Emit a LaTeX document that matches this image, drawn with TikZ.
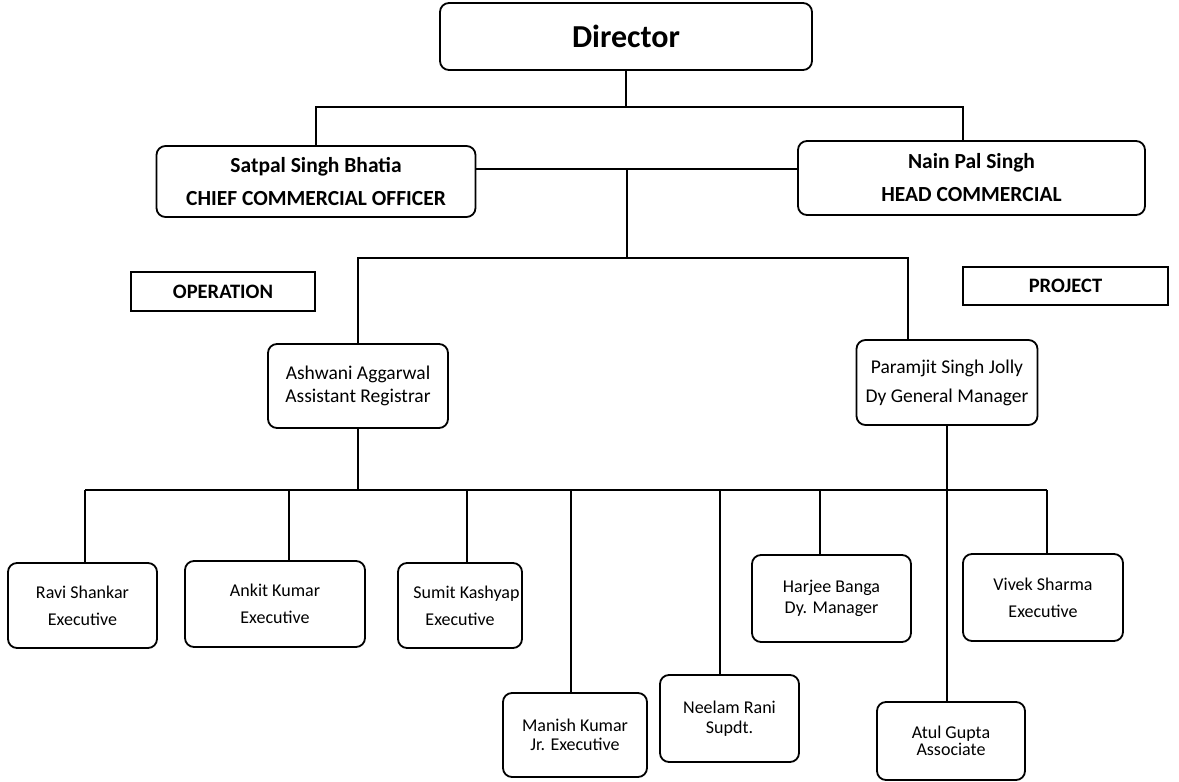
\documentclass[tikz,border=0pt]{standalone}
\usepackage{fontspec}
\setmainfont{Carlito}
\usetikzlibrary{calc}
\begin{document}
\begin{tikzpicture}[x=1pt,y=-1pt,
  link/.style={line width=2pt, black},
  box/.style={draw, rounded corners=9pt, align=center, inner sep=0pt, line width=1.8pt},
  tag/.style={draw, align=center, inner sep=0pt, line width=1.8pt,
    font=\fontsize{20.5}{24}\selectfont\bfseries},
  head/.style={font=\fontsize{21.5}{33}\selectfont\bfseries},
  mid/.style={font=\fontsize{19.5}{25}\selectfont},
  low/.style={font=\fontsize{18}{27}\selectfont}]
\useasboundingbox (0,0) rectangle (1179,782);

% top level
\node[box, minimum width=372pt, minimum height=67pt,
  font=\fontsize{32}{38}\selectfont\bfseries] (dir) at (626,36.5) {Director};

% commercial heads
\node[box, head, minimum width=319pt, minimum height=71pt] (sat) at (316,181.5)
  {Satpal Singh Bhatia\\CHIEF COMMERCIAL OFFICER};
\node[box, head, minimum width=347pt, minimum height=74pt] (nain) at (971.5,178)
  {Nain Pal Singh\\HEAD COMMERCIAL};

% section tags
\node[tag, minimum width=184pt, minimum height=39pt] (op) at (223,291.5) {OPERATION};
\node[tag, minimum width=205pt, minimum height=38pt] (pr) at (1065.5,286) {PROJECT};

% managers
\node[box, mid, minimum width=180pt, minimum height=84pt] (ash) at (358,386)
  {Ashwani Aggarwal\\[-2pt]Assistant Registrar};
\node[box, mid, minimum width=181pt, minimum height=85pt] (par) at (947,382.5)
  {Paramjit Singh Jolly\\[4pt]Dy General Manager};

% staff
\node[box, low, minimum width=149pt, minimum height=85pt] (ravi) at (82.5,605.5)
  {Ravi Shankar\\Executive};
\node[box, low, minimum width=180pt, minimum height=86pt] (ankit) at (275,604)
  {Ankit Kumar\\Executive};
\node[box, low, minimum width=124pt, minimum height=85pt] (sumit) at (460,605.5)
  {\hspace*{13pt}Sumit Kashyap\\Executive};
\node[box, low, minimum width=144pt, minimum height=84pt] (man) at (575,735)
  {Manish Kumar\\[-8pt]Jr. Executive};
\node[box, low, minimum width=139pt, minimum height=87pt] (nee) at (729.5,718.5)
  {Neelam Rani\\[-7pt]Supdt.};
\node[box, low, minimum width=159pt, minimum height=87pt] (har) at (831.5,598.5)
  {Harjee Banga\\[-6pt]Dy. Manager};
\node[box, low, minimum width=160pt, minimum height=87pt] (viv) at (1043,597.5)
  {Vivek Sharma\\Executive};
\node[box, low, minimum width=148pt, minimum height=78pt] (atul) at (951,741)
  {Atul Gupta\\[-10pt]Associate};

% bus levels
\coordinate (tb) at (0,107);
\coordinate (mj) at (627,169);
\coordinate (mb) at (627,258);
\coordinate (bb) at (0,490);

% director to the commercial heads
\draw[link] (dir.south) -- (dir.south |- tb);
\draw[link] (sat.north) -- (sat.north |- tb) -- ([xshift=-8.5pt]nain.north |- tb)
  -- ([xshift=-8.5pt]nain.north);
\draw[link] (mj -| sat.east) -- (mj -| nain.west);

% heads to managers
\draw[link] (mj) -- (mb);
\draw[link] (ash.north) -- (ash.north |- mb) -- ([xshift=-39pt]par.north |- mb)
  -- ([xshift=-39pt]par.north);

% managers to staff
\draw[link] (ash.south) -- (ash.south |- bb);
\draw[link] ([xshift=2.5pt]ravi.north |- bb) -- ([xshift=4pt]viv.north |- bb);
\draw[link] ([xshift=2.5pt]ravi.north) -- ([xshift=2.5pt]ravi.north |- bb);
\draw[link] ([xshift=14pt]ankit.north) -- ([xshift=14pt]ankit.north |- bb);
\draw[link] ([xshift=7pt]sumit.north) -- ([xshift=7pt]sumit.north |- bb);
\draw[link] ([xshift=-4pt]man.north) -- ([xshift=-4pt]man.north |- bb);
\draw[link] ([xshift=-9.5pt]nee.north) -- ([xshift=-9.5pt]nee.north |- bb);
\draw[link] ([xshift=-11.5pt]har.north) -- ([xshift=-11.5pt]har.north |- bb);
\draw[link] ([xshift=4pt]viv.north) -- ([xshift=4pt]viv.north |- bb);
\draw[link] (par.south) -- (par.south |- atul.north);
\end{tikzpicture}
\end{document}
